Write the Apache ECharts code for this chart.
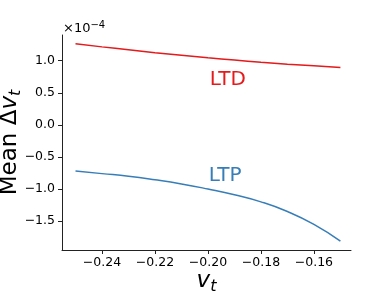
<!DOCTYPE html>
<html><head><meta charset="utf-8">
<script src="https://cdn.jsdelivr.net/npm/echarts@6/dist/echarts.min.js"></script>
<style>html,body{margin:0;padding:0;background:#fff}#c{width:390px;height:292px}</style>
</head><body><div id="c"></div>
<script>
const vt = [-0.25,-0.24,-0.23,-0.22,-0.21,-0.20,-0.19,-0.18,-0.17,-0.16,-0.15];
const ltd = [1.265,1.215,1.17,1.125,1.085,1.045,1.01,0.975,0.945,0.92,0.895];
const ltp = [-0.72,-0.76,-0.80,-0.855,-0.92,-1.0,-1.09,-1.2,-1.35,-1.55,-1.81];
const xTicks = [-0.24,-0.22,-0.20,-0.18,-0.16];
const yTicks = [-1.5,-1.0,-0.5,0.0,0.5,1.0];
const font = 'DejaVu Sans';
const fmt = (v,d) => (v<0?'\u2212':'') + Math.abs(v).toFixed(d);
const chart = echarts.init(document.getElementById('c'), null, {renderer:'canvas'});
const lbl = (text,color)=>({show:true,formatter:text,color:color,fontFamily:font,fontSize:20,position:'inside'});
const nameRich = {i:{fontFamily:font,fontStyle:'italic',fontSize:23,color:'#000'},s:{fontFamily:font,fontStyle:'italic',fontSize:16,color:'#000',padding:[11,0,0,0]}};
chart.setOption({
  animation:false,
  grid:{left:62,right:39,top:35,bottom:42,containLabel:false,outerBoundsMode:'none'},
  xAxis:{type:'value',min:-0.2551,max:-0.146,
    axisLine:{onZero:false,lineStyle:{color:'#222',width:1}},
    axisTick:{show:true,length:4,lineStyle:{color:'#222'},customValues:xTicks},
    axisLabel:{color:'#000',fontFamily:font,fontSize:12.5,margin:6,customValues:xTicks,formatter:v=>fmt(v,2)},
    splitLine:{show:false},
    name:'{i|v}{s|t}',nameLocation:'middle',nameGap:18,nameMoveOverlap:false,
    nameTextStyle:{rich:nameRich}
  },
  yAxis:{type:'value',min:-1.95,max:1.4,
    axisLine:{show:true,onZero:false,lineStyle:{color:'#222',width:1}},
    axisTick:{show:true,length:4,lineStyle:{color:'#222'},customValues:yTicks},
    axisLabel:{color:'#000',fontFamily:font,fontSize:12.5,margin:7,customValues:yTicks,formatter:v=>fmt(v,1)},
    splitLine:{show:false},
    name:'Mean \u0394{i|v}{s|t}',nameLocation:'middle',nameGap:38,nameRotate:90,nameMoveOverlap:false,
    nameTextStyle:{fontFamily:font,fontSize:23,color:'#000',rich:nameRich}
  },
  graphic:[{type:'text',left:63,top:20,style:{text:'\u00d710{s|\u22124}',fontFamily:font,fontSize:13,fill:'#000',rich:{s:{fontFamily:font,fontSize:10,fill:'#000',padding:[0,0,7,0]}}}}],
  series:[
    {type:'line',smooth:true,showSymbol:false,data:vt.map((x,i)=>[x,ltd[i]]),lineStyle:{color:'#e41a1c',width:1.5},
     markPoint:{symbol:'rect',symbolSize:1,itemStyle:{color:'rgba(0,0,0,0)'},data:[{coord:[-0.1925,0.70]}],label:lbl('LTD','#e41a1c')}},
    {type:'line',smooth:true,showSymbol:false,data:vt.map((x,i)=>[x,ltp[i]]),lineStyle:{color:'#377eb8',width:1.5},
     markPoint:{symbol:'rect',symbolSize:1,itemStyle:{color:'rgba(0,0,0,0)'},data:[{coord:[-0.1935,-0.80]}],label:lbl('LTP','#377eb8')}}
  ]
});
</script></body></html>
